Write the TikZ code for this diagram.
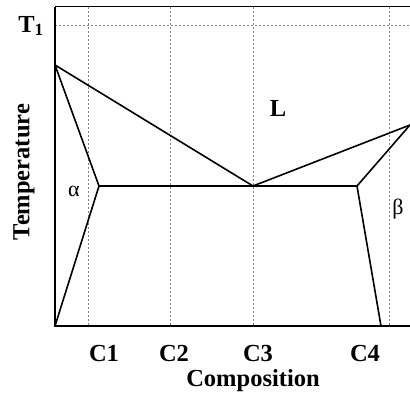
\documentclass[tikz,border=0pt]{standalone}
\usepackage{fontspec}
\setmainfont{Liberation Serif}
\begin{document}
\begin{tikzpicture}[x=1pt,y=-1pt,
  axis/.style={line width=2.2pt,black},
  phase/.style={line width=1.6pt,black},
  guide/.style={line width=0.8pt,gray,dash pattern=on 2pt off 2pt},
  lbl/.style={font=\fontsize{24.5}{28}\selectfont\bfseries,inner sep=0pt},
  greek/.style={font=\fontsize{22}{26}\selectfont,inner sep=0pt}]
\useasboundingbox[fill=white] (0,0) rectangle (410,396);
% guides
\coordinate (g1t) at (88,7); \coordinate (g1b) at (88,326);
\coordinate (g2t) at (170,7); \coordinate (g2b) at (170,326);
\coordinate (g3t) at (253,7); \coordinate (g3b) at (253,326);
\coordinate (g4t) at (389,7); \coordinate (g4b) at (389,326);
\coordinate (tl) at (55,25); \coordinate (tr) at (410,25);
\draw[guide] (g1t) -- (g1b);
\draw[guide] (g2t) -- (g2b);
\draw[guide] (g3t) -- (g3b);
\draw[guide] (g4t) -- (g4b);
\draw[guide] (tl) -- (tr);
% frame
\coordinate (o) at (55,326);
\coordinate (top) at (55,7);
\coordinate (topr) at (410,7);
\coordinate (botr) at (410,326);
\draw[line width=1pt] (top) -- (topr);
\draw[axis] (topr -| top) -- (o) -- (botr);
% phase lines
\coordinate (A) at (55,65);
\coordinate (E) at (253,186);
\coordinate (B) at (410,125);
\coordinate (a) at (99,186);
\coordinate (b) at (357,186);
\coordinate (bb) at (381,326);
\draw[phase] (A) -- (E) -- (B);
\draw[phase] (A) -- (a) -- (o);
\draw[phase] (a) -- (b);
\draw[phase] (B) -- (b) -- (bb);
% labels
\node[lbl] (T1) at (31,26) {T\textsubscript{1}};
\node[lbl] (L) at (278,108) {L};
\node[greek] (alpha) at (74,191) {α};
\node[greek] (beta) at (398,209) {β};
\node[lbl] (c1) at (104,354) {C1};
\node[lbl] (c2) at (174,354) {C2};
\node[lbl] (c3) at (258,354) {C3};
\node[lbl] (c4) at (365,354) {C4};
\node[lbl] (comp) at (253,381) {Composition};
\node[lbl,rotate=90] (temp) at (24,172) {Temperature};
\end{tikzpicture}
\end{document}
